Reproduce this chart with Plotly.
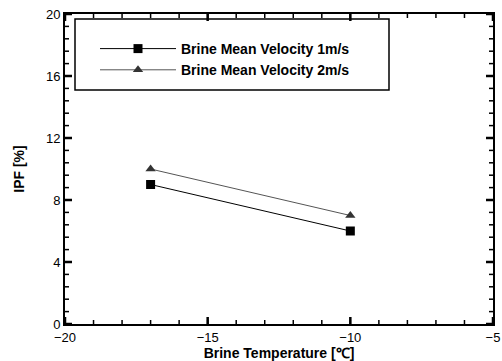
import plotly.graph_objects as go

temps = [-17, -10]
ipf_1ms = [9, 6]
ipf_2ms = [10, 7]
names = ["Brine Mean Velocity 1m/s", "Brine Mean Velocity 2m/s"]
x_ticks = [-20, -15, -10, -5]
y_ticks = [0, 4, 8, 12, 16, 20]
x_range = [-20, -5]
y_range = [0, 20]
x_minor_step = 1
y_minor_step = 0.8

fig = go.Figure()
fig.add_trace(go.Scatter(x=temps, y=ipf_1ms, mode="lines+markers", name=names[0],
                         line=dict(color="black", width=1),
                         marker=dict(symbol="square", size=9, color="black")))
fig.add_trace(go.Scatter(x=temps, y=ipf_2ms, mode="lines+markers", name=names[1],
                         line=dict(color="#555555", width=1),
                         marker=dict(symbol="triangle-up", size=9, color="#333333")))

n_xm = int(round((x_range[1] - x_range[0]) / x_minor_step)) + 1
n_ym = int(round((y_range[1] - y_range[0]) / y_minor_step)) + 1
x_minor = [x_range[0] + i * x_minor_step for i in range(n_xm)]
y_minor = [y_range[0] + i * y_minor_step for i in range(n_ym)]

# inward tick marks on all four sides, as pixel-sized line shapes anchored at axis values
def add_x_ticks(values, length, width):
    for v in values:
        for edge, sign in [(y_range[0], 1), (y_range[1], -1)]:
            fig.add_shape(type="line", xref="x", yref="y", ysizemode="pixel", yanchor=edge,
                          x0=v, x1=v, y0=0, y1=sign * length,
                          line=dict(color="black", width=width), layer="above")

def add_y_ticks(values, length, width):
    for v in values:
        for edge, sign in [(x_range[0], 1), (x_range[1], -1)]:
            fig.add_shape(type="line", xref="x", yref="y", xsizemode="pixel", xanchor=edge,
                          y0=v, y1=v, x0=0, x1=sign * length,
                          line=dict(color="black", width=width), layer="above")

add_x_ticks(x_minor, 4, 1.5)
add_x_ticks(x_ticks, 7, 2.5)
add_y_ticks(y_minor, 4, 1.5)
add_y_ticks(y_ticks, 7, 2.5)

tick_font = dict(family="Liberation Sans, Arial", size=13, color="black")
title_font = dict(family="Liberation Sans, Arial", size=14, color="black", weight="bold")

fig.update_layout(
    xaxis=dict(range=x_range, tickvals=x_ticks, showgrid=False, zeroline=False,
               showline=True, linecolor="black", linewidth=2, mirror=True, ticks="",
               tickfont=tick_font, automargin=False,
               title=dict(text="Brine Temperature [℃]", standoff=6, font=title_font)),
    yaxis=dict(range=y_range, tickvals=y_ticks, showgrid=False, zeroline=False,
               showline=True, linecolor="black", linewidth=2, mirror=True, ticks="",
               tickfont=tick_font, automargin=False,
               title=dict(text="IPF [%]", standoff=18, font=title_font)),
)

fig.add_shape(type="rect", xref="paper", yref="paper",
              x0=(75 - 65) / 428, x1=(389 - 65) / 428,
              y0=(324 - 90) / 310, y1=(324 - 19) / 310,
              line=dict(color="black", width=1.5), fillcolor="white", layer="below")

fig.update_layout(
    width=502, height=361, margin=dict(l=65, r=9, t=14, b=37),
    paper_bgcolor="white", plot_bgcolor="white",
    showlegend=True,
    legend=dict(x=(95 - 65) / 428, y=(324 - 33) / 310, xanchor="left", yanchor="top",
                bgcolor="rgba(0,0,0,0)", borderwidth=0, itemwidth=76, tracegroupgap=0,
                font=dict(family="Liberation Sans, Arial", size=14, color="black", weight="bold")),
)

fig.write_html("out.html")
